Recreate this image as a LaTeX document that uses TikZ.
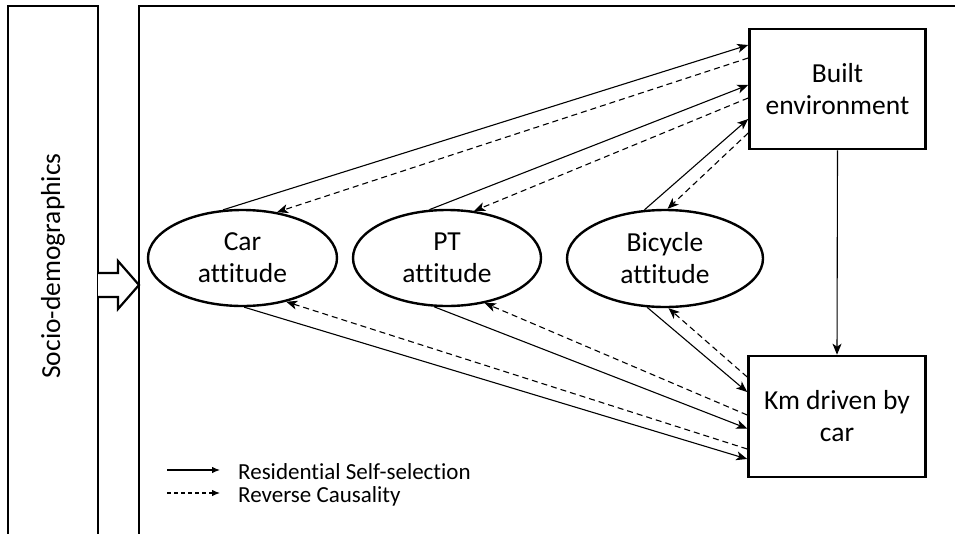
\documentclass[tikz,border=0pt]{standalone}
\usepackage{fontspec}
\setmainfont{Carlito}[Ligatures={NoCommon}]
\usetikzlibrary{shapes.geometric,arrows.meta,calc}
\newcommand{\mybigfont}{\fontsize{27.5}{32}\selectfont}
\newcommand{\mysmallfont}{\fontsize{23}{26}\selectfont}
\begin{document}
\begin{tikzpicture}[x=1pt,y=-1pt,
  panel/.style={line width=2.8pt},
  att/.style={ellipse,draw,line width=2.4pt,minimum height=96pt,inner sep=0pt,align=center,font=\mybigfont},
  box/.style={rectangle,draw,line width=2.6pt,minimum width=176pt,minimum height=120pt,inner sep=0pt,align=center,font=\mybigfont},
  sel/.style={-{Stealth[length=11pt,width=9pt,inset=3pt]},line width=1.1pt},
  rev/.style={sel,dash pattern=on 6pt off 4pt},
  lgline/.style={line width=1.1pt,-{Latex[length=8pt,width=6.5pt]}},
  lgtext/.style={anchor=base west,font=\mysmallfont,inner sep=0pt}]
\useasboundingbox (0,0) rectangle (955,533);
\clip (0,0) rectangle (955,533);
\fill[white] (0,0) rectangle (955,533);

% panels
\draw[panel] (8,545) -- (8,6) -- (98,6) -- (98,545);
\draw[panel] (139,545) -- (139,6) -- (965,6);
\node[rotate=90,font=\mybigfont,inner sep=0pt] (socio) at (53,266) {Socio-demographics};

% block arrow
\draw[line width=2.2pt,fill=white] (98,273) -- (118,273) -- (118,261) -- (139,285) -- (118,309) -- (118,297) -- (98,297);

% nodes
\node[att,minimum width=189pt] (car) at (242.5,258) {Car\\attitude};
\node[att,minimum width=188pt] (pt) at (447,258) {PT\\attitude};
\node[att,minimum width=196pt,minimum height=97pt] (bike) at (665,258.5) {Bicycle\\attitude};
\node[box] (be) at (837.5,89) {Built\\environment};
\node[box,minimum width=177pt,minimum height=121pt] (km) at (837,416.5) {Km driven by\\car};

% to built environment
\draw[sel] (car.112) -- ([yshift=44pt]be.west);
\draw[rev] ([yshift=31pt]be.west) -- (car.53);
\draw[sel] (pt.110) -- ([yshift=4pt]be.west);
\draw[rev] ([yshift=-9pt]be.west) -- (pt.60);
\draw[sel] (bike.113) -- ([yshift=-30pt]be.west);
\draw[rev] ([yshift=-44pt]be.west) -- (bike.87);

% to km driven
\draw[sel] (bike.-110) -- ([yshift=24.5pt]km.west);
\draw[rev] ([yshift=39.5pt]km.west) -- (bike.-86);
\draw[sel] (pt.-105) -- ([yshift=-12pt]km.west);
\draw[rev] ([yshift=1.5pt]km.west) -- (pt.-50);
\draw[sel] (car.-88) -- ([yshift=-42.5pt]km.west);
\draw[rev] ([yshift=-32.5pt]km.west) -- (car.-45);

\draw[sel] (be.south) -- (km.north);

% legend
\coordinate (l1a) at (167,470); \coordinate (l1b) at (220,470);
\coordinate (l2a) at (167,493); \coordinate (l2b) at (220,493);
\draw[lgline] (l1a) -- (l1b);
\draw[lgline,dash pattern=on 4pt off 3pt] (l2a) -- (l2b);
\node[lgtext] (lg1) at (238,479) {Residential Self-selection};
\node[lgtext] (lg2) at (238,502) {Reverse Causality};
\end{tikzpicture}
\end{document}
